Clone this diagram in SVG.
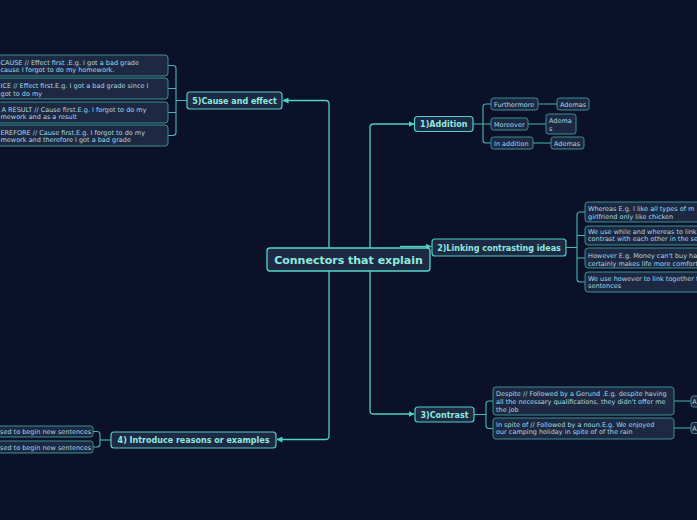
<svg xmlns="http://www.w3.org/2000/svg" width="697" height="520" viewBox="0 0 697 520">
<defs>
<style>
.bg{fill:#0b1129}
.main{fill:#1e2a45;stroke:#55d6c8;stroke-width:1.3}
.topic{fill:#1e2a45;stroke:#4fcfc1;stroke-width:1.2}
.sub{fill:#1d2942;stroke:#3d8e93;stroke-width:1}
.ln{fill:none;stroke:#4fd1c4;stroke-width:1.3}
.lns{fill:none;stroke:#45b8b0;stroke-width:1.1}
.tmain{font-family:"DejaVu Sans",Verdana,sans-serif;font-weight:bold;font-size:11px;fill:#8eeadf}
.ttop{font-family:"DejaVu Sans",Verdana,sans-serif;font-weight:bold;font-size:8px;fill:#8eeadf}
.tsub{font-family:"DejaVu Sans",Verdana,sans-serif;font-size:6.5px;fill:#a9d6e3}
</style>
<marker id="arr" viewBox="0 0 6 6" refX="5.5" refY="3" markerWidth="6" markerHeight="6" markerUnits="userSpaceOnUse" orient="auto">
<path d="M0,0 L6,3 L0,6 z" fill="#4fd1c4"/>
</marker>
</defs>
<rect class="bg" x="0" y="0" width="697" height="520"/>

<g id="connectors">
<path class="ln" d="M329,259 V104 Q329,100.5 325.5,100.5 H283" marker-end="url(#arr)"/>
<path class="ln" d="M329,259 V436 Q329,439.5 325.5,439.5 H277" marker-end="url(#arr)"/>
<path class="ln" d="M370,259 V127.5 Q370,124 373.5,124 H414" marker-end="url(#arr)"/>
<path class="ln" d="M370,259 V410.5 Q370,414 373.5,414 H414" marker-end="url(#arr)"/>
<path class="ln" d="M400,246.5 H431" marker-end="url(#arr)"/>
<path class="lns" d="M168,65.5 H173 Q176,65.5 176,68.5 V132.5 Q176,135.5 173,135.5 H168"/>
<path class="lns" d="M168,88.5 H176 M168,112.5 H176 M176,100.5 H187"/>
<path class="lns" d="M491,104 H486 Q483,104 483,107 V140 Q483,143 486,143 H491"/>
<path class="lns" d="M473,124 H491 M538,104 H557 M528,124 H546 M533,143 H551"/>
<path class="lns" d="M585,212 H580 Q577,212 577,215 V279 Q577,282 580,282 H585"/>
<path class="lns" d="M566,247.5 H577 M577,235.5 H585 M577,258 H585"/>
<path class="lns" d="M493,401 H489 Q486,401 486,404 V425.5 Q486,428.5 489,428.5 H493"/>
<path class="lns" d="M474,414.5 H486 M674,401 H691 M674,428 H691"/>
<path class="lns" d="M93,431.5 H97 Q100,431.5 100,434.5 V444 Q100,447 97,447 H93"/>
<path class="lns" d="M100,440 H111"/>
</g>

<g id="center">
<rect class="main" x="267" y="248" width="163" height="23" rx="3"/>
<text class="tmain" x="348.5" y="263.8" text-anchor="middle">Connectors that explain</text>
</g>

<g id="n5">
<rect class="topic" x="187" y="92" width="95" height="17" rx="3"/>
<text class="ttop" x="234.5" y="103.5" text-anchor="middle">5)Cause and effect</text>
</g>
<g id="n5a">
<rect class="sub" x="-10" y="55" width="178" height="21" rx="3"/>
<text class="tsub" x="0.5" y="64.5">CAUSE // Effect first .E.g. I got a bad grade</text>
<text class="tsub" x="0.5" y="72">cause I forgot to do my homework.</text>
</g>
<g id="n5b">
<rect class="sub" x="-10" y="78" width="178" height="21" rx="3"/>
<text class="tsub" x="0.5" y="87.5">ICE // Effect first.E.g. I got a bad grade since I</text>
<text class="tsub" x="0.5" y="95.5">got to do my</text>
</g>
<g id="n5c">
<rect class="sub" x="-10" y="102" width="178" height="21" rx="3"/>
<text class="tsub" x="1.5" y="111.5">A RESULT // Cause first.E.g. I forgot  to do my</text>
<text class="tsub" x="0.5" y="119">mework and as a result</text>
</g>
<g id="n5d">
<rect class="sub" x="-10" y="125" width="178" height="21" rx="3"/>
<text class="tsub" x="0.5" y="134.5">EREFORE //  Cause first.E.g. I forgot to do my</text>
<text class="tsub" x="0.5" y="142">mework and therefore I got a bad grade</text>
</g>

<g id="n1">
<rect class="topic" x="414.5" y="116.5" width="58.5" height="15" rx="3"/>
<text class="ttop" x="443.8" y="127" text-anchor="middle">1)Addition</text>
</g>
<g id="n1a">
<rect class="sub" x="491" y="98" width="47" height="12" rx="2.5"/>
<text class="tsub" x="494" y="106.5">Furthermore</text>
</g>
<g id="n1b">
<rect class="sub" x="491" y="118" width="37" height="12" rx="2.5"/>
<text class="tsub" x="494" y="126.5">Moreover</text>
</g>
<g id="n1c">
<rect class="sub" x="491" y="137" width="42" height="12" rx="2.5"/>
<text class="tsub" x="494" y="145.5">In addition</text>
</g>
<g id="n1a1">
<rect class="sub" x="557" y="98" width="32" height="12" rx="2.5"/>
<text class="tsub" x="560" y="106.5">Ademas</text>
</g>
<g id="n1b1">
<rect class="sub" x="546" y="114" width="30" height="20" rx="2.5"/>
<text class="tsub" x="549" y="122.5">Adema</text>
<text class="tsub" x="549" y="130.5">s</text>
</g>
<g id="n1c1">
<rect class="sub" x="551" y="137" width="33" height="12" rx="2.5"/>
<text class="tsub" x="554" y="145.5">Ademas</text>
</g>

<g id="n2">
<rect class="topic" x="432" y="239" width="134" height="17" rx="3"/>
<text class="ttop" x="499" y="250.5" text-anchor="middle">2)Linking contrasting ideas</text>
</g>
<g id="n2a">
<rect class="sub" x="585" y="202" width="130" height="20" rx="3"/>
<text class="tsub" x="588" y="211.3">Whereas E.g. I like all types of m</text>
<text class="tsub" x="588" y="219">girlfriend only like chicken</text>
</g>
<g id="n2b">
<rect class="sub" x="585" y="226" width="130" height="19" rx="3"/>
<text class="tsub" x="588" y="234">We use while and whereas to link</text>
<text class="tsub" x="588" y="241">contrast with each other in the se</text>
</g>
<g id="n2c">
<rect class="sub" x="585" y="248" width="130" height="20" rx="3"/>
<text class="tsub" x="588" y="258">However E.g. Money can't buy ha</text>
<text class="tsub" x="588" y="265.5">certainly makes life more comfort</text>
</g>
<g id="n2d">
<rect class="sub" x="585" y="272" width="130" height="20" rx="3"/>
<text class="tsub" x="588" y="280.5">We use however to link together t</text>
<text class="tsub" x="588" y="288">sentences</text>
</g>

<g id="n3">
<rect class="topic" x="415" y="407" width="59" height="15" rx="3"/>
<text class="ttop" x="444.5" y="417.6" text-anchor="middle">3)Contrast</text>
</g>
<g id="n3a">
<rect class="sub" x="493" y="387" width="181" height="28" rx="3"/>
<text class="tsub" x="496" y="396">Despite // Followed by a Gerund .E.g. despite having</text>
<text class="tsub" x="496" y="404">all the necessary qualifications, they didn't offer me</text>
<text class="tsub" x="496" y="412">the job</text>
</g>
<g id="n3b">
<rect class="sub" x="493" y="418" width="181" height="21" rx="3"/>
<text class="tsub" x="496" y="426.5">In spite of // Followed by a noun.E.g. We enjoyed</text>
<text class="tsub" x="496" y="434.3">our camping holiday in spite of of the rain</text>
</g>
<g id="n3a1">
<rect class="sub" x="691" y="396" width="20" height="11" rx="2.5"/>
<text class="tsub" x="692.3" y="404">A</text>
</g>
<g id="n3b1">
<rect class="sub" x="691" y="422.5" width="20" height="11" rx="2.5"/>
<text class="tsub" x="692.3" y="430.5">A</text>
</g>

<g id="n4">
<rect class="topic" x="111" y="432" width="165" height="16" rx="3"/>
<text class="ttop" x="193.5" y="443" text-anchor="middle">4) Introduce reasons or examples</text>
</g>
<g id="n4a">
<rect class="sub" x="-20" y="426" width="113" height="11" rx="2.5"/>
<text class="tsub" x="0" y="434.3">sed to begin new sentences</text>
</g>
<g id="n4b">
<rect class="sub" x="-20" y="441" width="113" height="12" rx="2.5"/>
<text class="tsub" x="0" y="449.5">sed to begin new sentences</text>
</g>
</svg>
